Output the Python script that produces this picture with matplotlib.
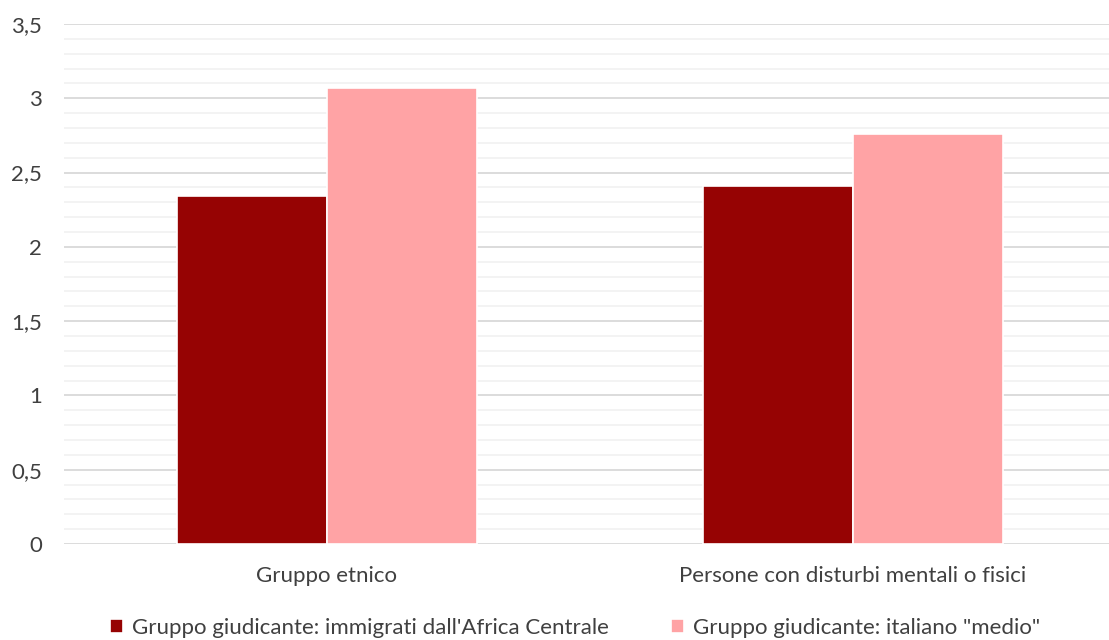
import matplotlib.pyplot as plt
import numpy as np
from matplotlib.ticker import MultipleLocator, FuncFormatter

categories = ['Gruppo etnico', 'Persone con disturbi mentali o fisici']
series_names = ["Gruppo giudicante: immigrati dall'Africa Centrale",
                'Gruppo giudicante: italiano "medio"']
immigrati = [2.34, 2.41]
italiano = [3.07, 2.76]

dark = '#960303'
pink = '#FFA3A5'

plt.rcParams['font.family'] = ['Lato', 'DejaVu Sans']

fig = plt.figure(figsize=(11.09, 6.4), dpi=100)
ax = fig.add_axes([64 / 1109, 1 - 544 / 640, 1 - 64 / 1109, 520 / 640])

x = np.arange(len(categories))
w = 0.285
ax.bar(x - w / 2, immigrati, w, color=dark, edgecolor='white', linewidth=1.2,
       label=series_names[0], zorder=3)
ax.bar(x + w / 2, italiano, w, color=pink, edgecolor='white', linewidth=1.2,
       label=series_names[1], zorder=3)

ax.set_ylim(0, 3.5)
ax.set_xlim(-0.5, (1109 - 327) / 526)
ax.yaxis.set_major_locator(MultipleLocator(0.5))
ax.yaxis.set_minor_locator(MultipleLocator(0.1))
ax.yaxis.set_major_formatter(FuncFormatter(lambda v, p: ('%g' % v).replace('.', ',')))
ax.grid(axis='y', which='major', color='#D9D9D9', linewidth=1.3, zorder=0)
ax.grid(axis='y', which='minor', color='#F2F2F2', linewidth=1.3, zorder=0)
ax.set_axisbelow(True)

for s in ax.spines.values():
    s.set_visible(False)

ax.set_xticks(x)
ax.set_xticklabels(categories)
ax.tick_params(axis='x', length=0, pad=16, labelsize=16, labelcolor='#404040')
ax.tick_params(axis='y', which='both', length=0, pad=16, labelsize=16, labelcolor='#404040')

fig.legend(loc='center', bbox_to_anchor=(575 / 1109, 12 / 640), ncol=2, frameon=False,
           fontsize=16, handlelength=0.6, handleheight=0.6, handletextpad=0.4,
           columnspacing=2.8, labelcolor='#404040')

fig.savefig('out.png', dpi=100)
